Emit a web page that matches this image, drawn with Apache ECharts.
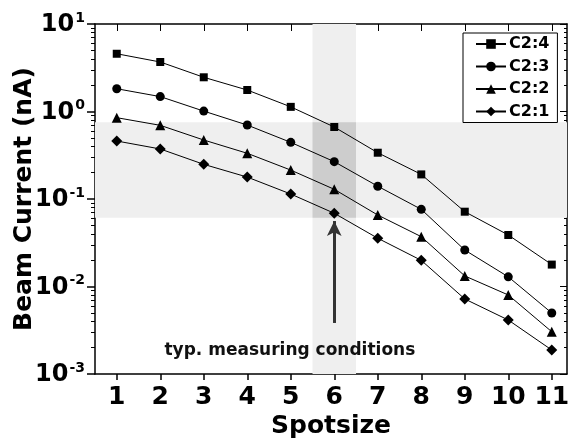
<!DOCTYPE html>
<html>
<head>
<meta charset="utf-8">
<script src="https://cdn.jsdelivr.net/npm/echarts@6/dist/echarts.min.js"></script>
<style>html,body{margin:0;padding:0;background:#fff}#c{width:570px;height:441px}</style>
</head>
<body>
<div id="c"></div>
<script>
const spotsizes = [1, 2, 3, 4, 5, 6, 7, 8, 9, 10, 11];
const seriesNames = ['C2:4', 'C2:3', 'C2:2', 'C2:1'];
const c24 = [4.57, 3.68, 2.46, 1.76, 1.13, 0.665, 0.338, 0.191, 0.0716, 0.0388, 0.0178];
const c23 = [1.82, 1.48, 1.01, 0.70, 0.444, 0.267, 0.140, 0.0762, 0.0261, 0.0129, 0.00498];
const c22 = [0.85, 0.695, 0.472, 0.333, 0.214, 0.129, 0.0656, 0.0371, 0.0132, 0.0080, 0.00304];
const c21 = [0.46, 0.373, 0.249, 0.178, 0.114, 0.0687, 0.0356, 0.0199, 0.0072, 0.00414, 0.00188];
const yMajorTicks = [0.001, 0.01, 0.1, 1, 10];
const yMinorTicks = [];
[0.001, 0.01, 0.1, 1].forEach(d => { for (let m = 2; m <= 9; m++) yMinorTicks.push(+(d * m).toPrecision(3)); });
const bandY = [0.0611, 0.753];
const bandX = [5.5, 6.5];
const arrowFrom = [6, 0.00383];
const arrowTo = [6, 0.056];
const noteText = 'typ. measuring conditions';
const notePos = [4.98, 0.00185];

const FONT = 'DejaVu Sans';
const seriesData = [c24, c23, c22, c21];
const symbols = ['rect', 'circle', 'triangle', 'diamond'];
const symSizes = [8, 9, 10, 11];
const yMinorLog = yMinorTicks.map(v => Math.log10(v));

const chart = echarts.init(document.getElementById('c'), null, {renderer: 'canvas'});
const lineStyleAxis = {color: '#000', width: 1.5};

const series = seriesData.map((arr, i) => ({
  name: seriesNames[i],
  type: 'line',
  data: arr.map((v, k) => [spotsizes[k], v]),
  symbol: symbols[i],
  symbolSize: symSizes[i],
  itemStyle: {color: '#000'},
  lineStyle: {color: '#000', width: 1},
  z: 5,
  animation: false
}));

series.push({
  name: 'bands',
  type: 'line',
  data: [],
  z: 1,
  silent: true,
  markArea: {
    silent: true,
    data: [
      [{yAxis: bandY[0], itemStyle: {color: '#efefef'}}, {yAxis: bandY[1]}],
      [{xAxis: bandX[0], itemStyle: {color: '#efefef'}}, {xAxis: bandX[1]}],
      [{xAxis: bandX[0], yAxis: bandY[0], itemStyle: {color: '#cdcdcd'}}, {xAxis: bandX[1], yAxis: bandY[1]}]
    ]
  },
  markLine: {
    silent: true,
    symbol: ['none', 'arrow'],
    symbolSize: [11, 15],
    label: {show: false},
    lineStyle: {color: '#333', width: 3, type: 'solid'},
    data: [[{coord: arrowFrom}, {coord: arrowTo}]]
  },
  markPoint: {
    silent: true,
    symbol: 'rect',
    symbolSize: 0,
    label: {show: true, position: 'inside', formatter: noteText, fontFamily: FONT, fontWeight: 'bold', fontSize: 17, color: '#111'},
    data: [{coord: notePos}]
  },
  animation: false
});

const yLabel = {
  fontFamily: FONT,
  color: '#000',
  margin: 10,
  formatter: v => '{b|10}{s|' + Math.round(Math.log10(v)) + '}',
  rich: {
    b: {fontFamily: FONT, fontWeight: 'bold', fontSize: 24, color: '#000', verticalAlign: 'bottom'},
    s: {fontFamily: FONT, fontWeight: 'bold', fontSize: 14, color: '#000', verticalAlign: 'top', padding: [0, 0, 12, 1]}
  }
};

const option = {
  backgroundColor: '#fff',
  animation: false,
  grid: {left: 95, top: 24, right: 3, bottom: 67, containLabel: false, outerBoundsMode: 'none'},
  legend: {
    orient: 'vertical',
    left: 463, top: 33,
    padding: [3, 8, 3, 12],
    itemWidth: 30, itemHeight: 12, itemGap: 6.5,
    borderColor: '#000', borderWidth: 1,
    backgroundColor: '#fff',
    data: seriesNames,
    textStyle: {fontFamily: FONT, fontWeight: 'bold', fontSize: 16, color: '#000', padding: [0, 0, 0, -2]}
  },
  xAxis: [
    {
      type: 'value', position: 'bottom', min: 0.5, max: 11.35,
      axisLine: {onZero: false, lineStyle: lineStyleAxis},
      axisTick: {show: true, inside: false, length: 6, customValues: spotsizes, lineStyle: {color: '#000', width: 1.5}},
      axisLabel: {customValues: spotsizes, fontFamily: FONT, fontWeight: 'bold', fontSize: 25, color: '#000', margin: 11},
      splitLine: {show: false},
      name: 'Spotsize', nameLocation: 'middle', nameGap: 40, nameMoveOverlap: false,
      nameTextStyle: {fontFamily: FONT, fontWeight: 'bold', fontSize: 25, color: '#000'}
    },
    {
      type: 'value', position: 'top', min: 0.5, max: 11.35,
      axisLine: {onZero: false, lineStyle: lineStyleAxis},
      axisTick: {show: true, inside: true, length: 7, customValues: spotsizes, lineStyle: {color: '#000', width: 1}},
      axisLabel: {show: false},
      splitLine: {show: false}
    }
  ],
  yAxis: [
    {
      type: 'log', logBase: 10, min: 0.001, max: 10, position: 'left',
      axisLine: {onZero: false, lineStyle: lineStyleAxis},
      axisTick: {show: true, inside: false, length: 8, customValues: yMajorTicks, lineStyle: {color: '#000', width: 1.5}},
      axisLabel: Object.assign({customValues: yMajorTicks}, yLabel),
      splitLine: {show: false},
      minorTick: {show: false},
      name: 'Beam Current (nA)', nameLocation: 'middle', nameGap: 58, nameRotate: 90, nameMoveOverlap: false,
      nameTextStyle: {fontFamily: FONT, fontWeight: 'bold', fontSize: 25, color: '#000'}
    },
    {
      type: 'value', min: -3, max: 1, position: 'left',
      axisLine: {show: false, onZero: false},
      axisTick: {show: true, inside: false, length: 4, customValues: yMinorLog, lineStyle: {color: '#000', width: 1}},
      axisLabel: {show: false},
      splitLine: {show: false}
    },
    {
      type: 'log', logBase: 10, min: 0.001, max: 10, position: 'right',
      axisLine: {onZero: false, lineStyle: lineStyleAxis},
      axisTick: {show: true, inside: true, length: 7, customValues: yMajorTicks, lineStyle: {color: '#000', width: 1}},
      axisLabel: {show: false},
      splitLine: {show: false}
    },
    {
      type: 'value', min: -3, max: 1, position: 'right',
      axisLine: {show: false, onZero: false},
      axisTick: {show: true, inside: true, length: 3, customValues: yMinorLog, lineStyle: {color: '#000', width: 1}},
      axisLabel: {show: false},
      splitLine: {show: false}
    }
  ],
  series: series
};
chart.setOption(option);
</script>
</body>
</html>
